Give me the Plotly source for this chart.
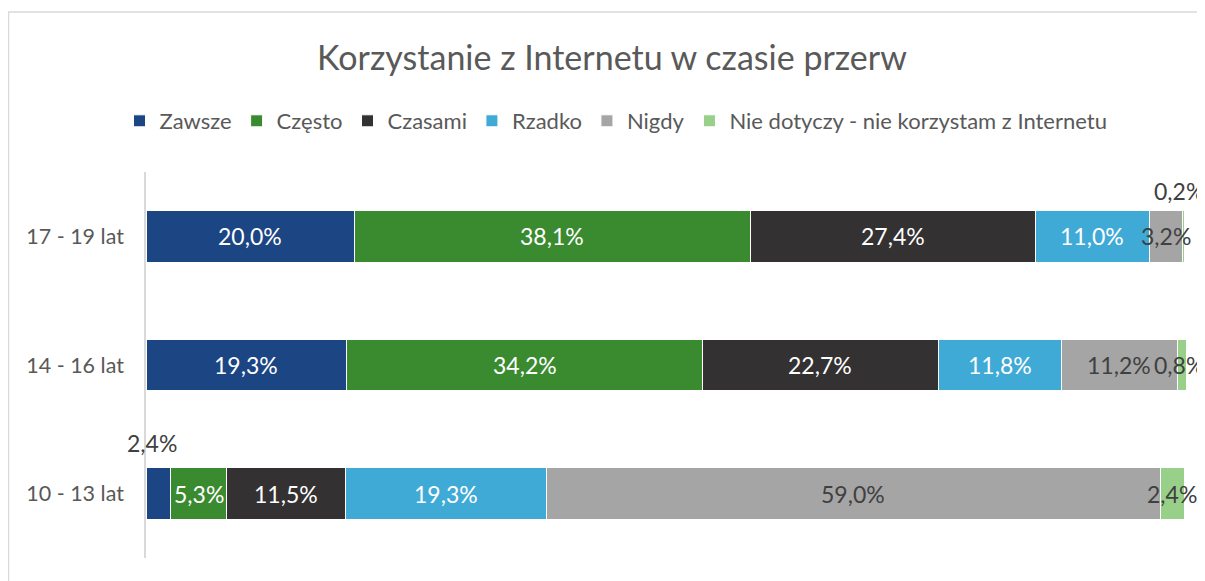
import plotly.graph_objects as go

categories = ["10 - 13 lat", "14 - 16 lat", "17 - 19 lat"]
series_names = ["Zawsze", "Często", "Czasami", "Rzadko", "Nigdy",
                "Nie dotyczy - nie korzystam z Internetu"]
zawsze = [2.4, 19.3, 20.0]
czesto = [5.3, 34.2, 38.1]
czasami = [11.5, 22.7, 27.4]
rzadko = [19.3, 11.8, 11.0]
nigdy = [59.0, 11.2, 3.2]
nie_dotyczy = [2.4, 0.8, 0.2]
series_values = [zawsze, czesto, czasami, rzadko, nigdy, nie_dotyczy]
colors = ["#1B4583", "#3A8A2F", "#333132", "#3FAAD6", "#A5A5A5", "#98D08A"]
label_colors = ["white", "white", "white", "white", "#404040", "#404040"]

FONT = "Lato, 'Liberation Sans', sans-serif"
# page body has an 8px margin, so the figure is laid out 8px smaller
W, H = 1197, 573
L, R, T, B = 138, 19, 164, 23

fig = go.Figure()
for name, vals, col in zip(series_names, series_values, colors):
    fig.add_trace(go.Bar(
        y=categories, x=vals, name=name, orientation="h",
        marker=dict(color=col, line=dict(color="white", width=1)),
        hoverinfo="x+name",
    ))

# data labels computed from cumulative values
special = {(5, 2): (-5, 45), (0, 0): (-6, 51), (5, 1): (-3, 0)}
moved_labels = [(5, 2), (0, 0)]
annotations = []
for j, cat in enumerate(categories):
    cum = 0.0
    for i, vals in enumerate(series_values):
        v = vals[j]
        xs, ys = special.get((i, j), (0, 0))
        moved = (i, j) in moved_labels
        annotations.append(dict(
            x=cum + v / 2, y=cat, xref="x", yref="y",
            text=f"{v:.1f}%".replace(".", ","), showarrow=False,
            xshift=xs, yshift=ys,
            font=dict(family=FONT, size=23,
                      color="#404040" if moved else label_colors[i]),
        ))
        cum += v

pw = W - L - R
ph = H - T - B
fig.update_layout(
    width=W, height=H,
    margin=dict(l=L, r=R, t=T, b=B, pad=0),
    barmode="stack", bargap=0.597,
    paper_bgcolor="white", plot_bgcolor="white",
    font=dict(family=FONT, color="#595959"),
    title=dict(text="Korzystanie z Internetu w czasie przerw",
               x=(612 - 8) / W, xanchor="center", y=1 - 50 / H, yanchor="middle",
               xref="container", yref="container",
               font=dict(family=FONT, size=34, color="#595959")),
    legend=dict(orientation="h", xref="container", x=(616 - 8) / W,
                xanchor="center",
                yref="container", y=1 - 113 / H, yanchor="middle",
                font=dict(family=FONT, size=22, color="#595959"),
                itemwidth=30, tracegroupgap=0, traceorder="normal"),
    xaxis=dict(range=[0, 100], showgrid=False, zeroline=False,
               showticklabels=False, showline=False, fixedrange=True),
    yaxis=dict(range=[-0.5, 2.5], showgrid=False, zeroline=False,
               showline=True, linecolor="#D9D9D9", linewidth=1.5,
               ticks="", ticklabelstandoff=16,
               tickfont=dict(family=FONT, size=21.5, color="#595959")),
    annotations=annotations,
    showlegend=True,
)
# outer chart border (light gray)
fig.add_shape(type="rect", xref="paper", yref="paper",
              x0=(0.5 - L) / pw, x1=1.2, y0=-0.3, y1=(H - B - 4) / ph,
              line=dict(color="#D9D9D9", width=1.5), fillcolor="rgba(0,0,0,0)",
              layer="below")

fig.write_html("out.html")
